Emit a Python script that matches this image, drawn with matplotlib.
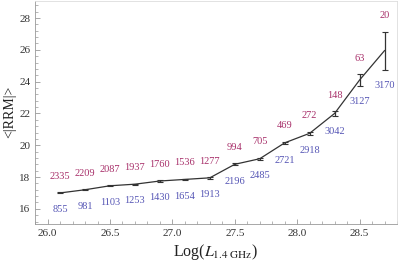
import numpy as np
import matplotlib.pyplot as plt
from matplotlib.ticker import MultipleLocator

plt.rcParams['font.family'] = ['Liberation Serif', 'DejaVu Serif']
plt.rcParams['mathtext.fontset'] = 'stix'

# binned radio luminosity vs mean |RRM|
log_l = [26.1, 26.3, 26.5, 26.7, 26.9, 27.1, 27.3, 27.5, 27.7, 27.9, 28.1, 28.3, 28.5, 28.7]
mean_rrm = [17.0, 17.2, 17.45, 17.55, 17.75, 17.85, 17.95, 18.8, 19.15, 20.15, 20.75, 22.0, 24.1, 25.95]
rrm_err = [0.03, 0.03, 0.03, 0.04, 0.04, 0.05, 0.05, 0.06, 0.07, 0.08, 0.1, 0.15, 0.35, 1.2]
n_above = [2335, 2209, 2087, 1937, 1760, 1536, 1277, 994, 705, 469, 272, 148, 63, 20]
n_below = [855, 981, 1103, 1253, 1430, 1654, 1913, 2196, 2485, 2721, 2918, 3042, 3127, 3170]

pink = '#a8306a'
blue = '#5555b5'
frame = '#999999'

fig, ax = plt.subplots(figsize=(3.99, 2.61), dpi=100)
fig.subplots_adjust(left=0.088, right=0.995, bottom=0.142, top=0.998)

ax.errorbar(log_l, mean_rrm, yerr=rrm_err, color='#333333', lw=0.9,
            elinewidth=0.9, capsize=2, capthick=0.8)

for x, y, e, a, b in zip(log_l, mean_rrm, rrm_err, n_above, n_below):
    ax.text(x, y + e + 1.0, str(a), color=pink, fontsize=7.5, ha='center', va='center')
    ax.text(x, y - e - 1.0, str(b), color=blue, fontsize=7.5, ha='center', va='center')

ax.set_xlim(25.9, 28.8)
ax.set_ylim(15.05, 29.1)
ax.xaxis.set_major_locator(MultipleLocator(0.5))
ax.xaxis.set_minor_locator(MultipleLocator(0.1))
ax.yaxis.set_major_locator(MultipleLocator(2))
ax.yaxis.set_minor_locator(MultipleLocator(0.4))
ax.xaxis.set_major_formatter(plt.FormatStrFormatter('%.1f'))
ax.tick_params(which='both', direction='in', colors=frame, labelcolor='#333333',
               labelsize=8, top=False, right=False)
ax.tick_params(which='major', length=3.5, width=0.6)
ax.tick_params(which='minor', length=2, width=0.5)
for s in ax.spines.values():
    s.set_color(frame)
    s.set_linewidth(0.6)
for s in ['top', 'right']:
    ax.spines[s].set_color('#dddddd')

ax.set_xlabel(r'Log($L_{1.4\ \mathrm{GHz}}$)', fontsize=11.5, color='#222222', labelpad=3)
ax.set_ylabel('<|RRM|>', fontsize=10, color='#222222', labelpad=2)

plt.savefig('out.png', dpi=100)
